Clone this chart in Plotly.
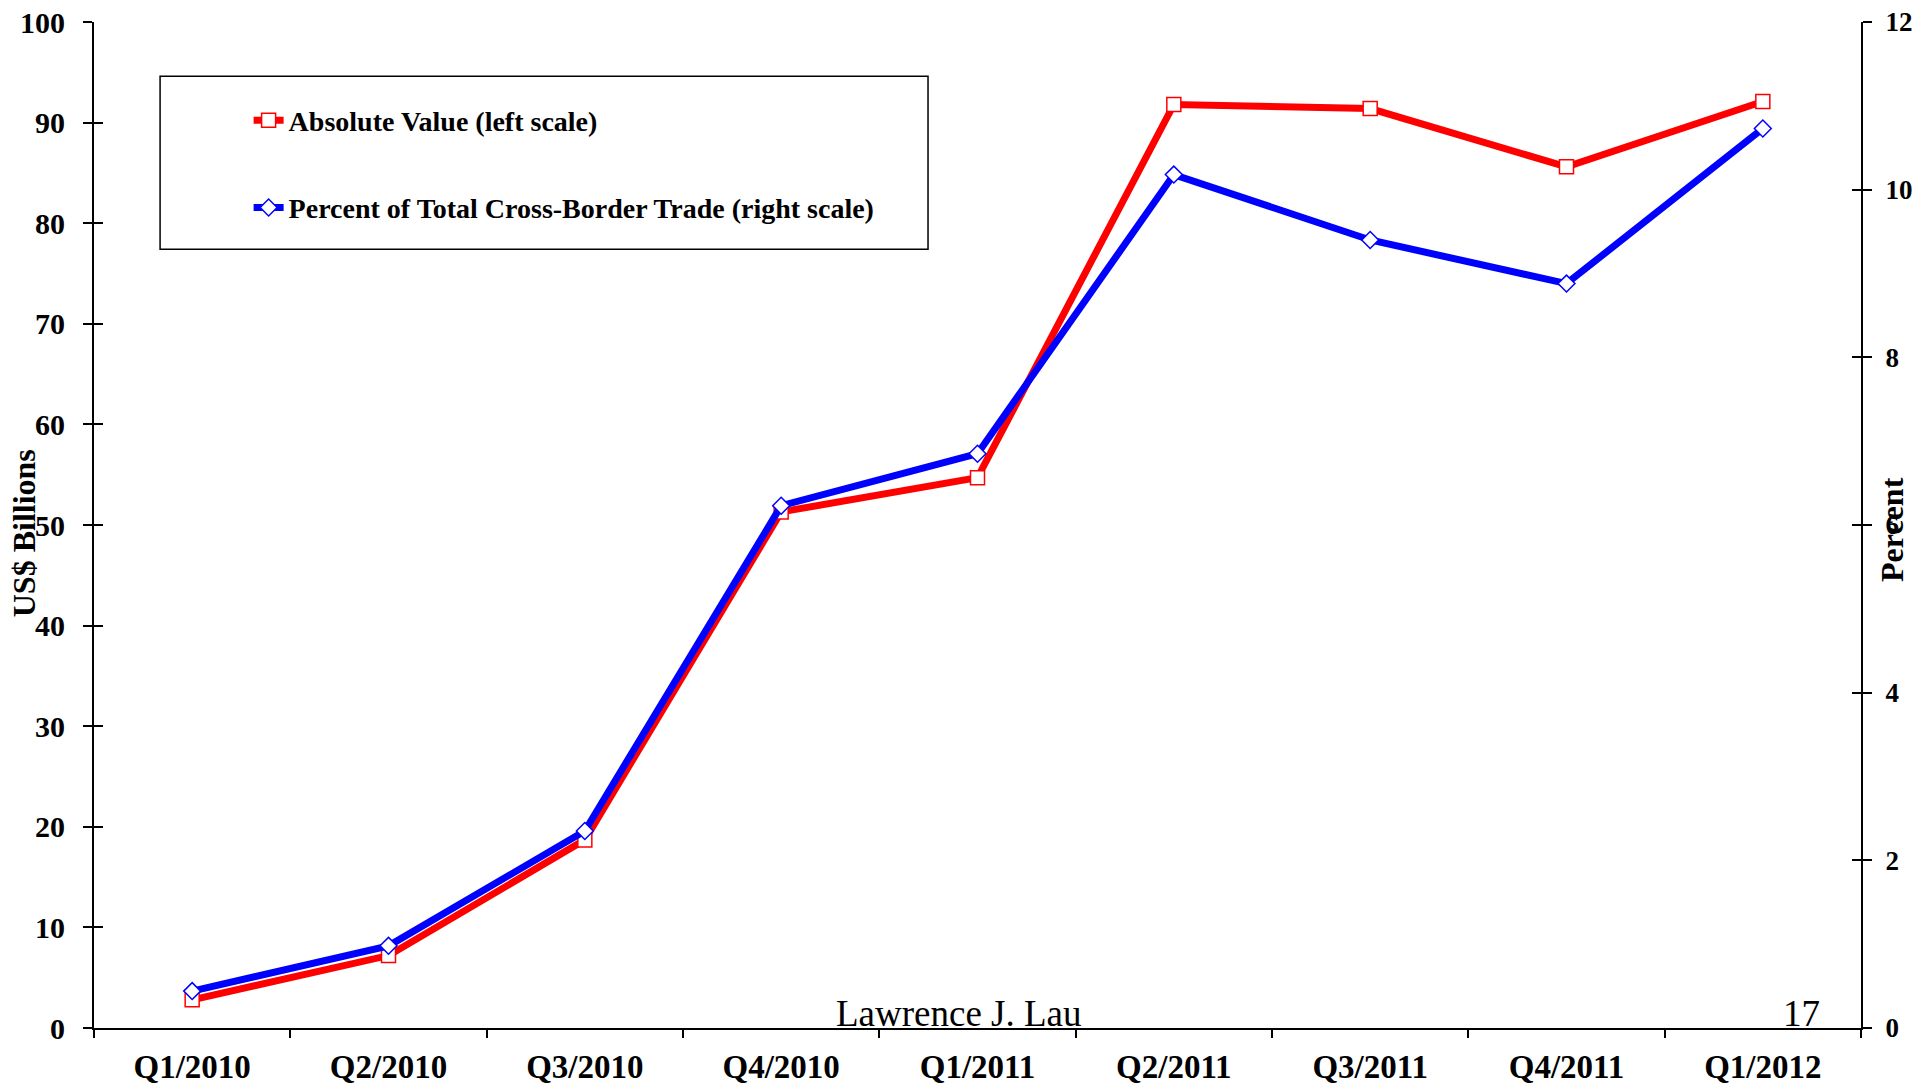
import plotly.graph_objects as go

quarters = ["Q1/2010", "Q2/2010", "Q3/2010", "Q4/2010", "Q1/2011",
            "Q2/2011", "Q3/2011", "Q4/2011", "Q1/2012"]
absolute_value = [2.8, 7.2, 18.7, 51.3, 54.7, 91.8, 91.4, 85.6, 92.1]
percent_total = [0.44, 0.98, 2.35, 6.23, 6.85, 10.18, 9.40, 8.88, 10.73]
left_ticks = list(range(0, 101, 10))
right_ticks = list(range(0, 13, 2))

FONT = "Liberation Serif"
pos = list(range(len(quarters)))
bounds = [p - 0.5 for p in pos] + [pos[-1] + 0.5]
xr = [-0.5, len(quarters) - 0.5]

fig = go.Figure()
fig.add_trace(go.Scatter(
    x=pos, y=absolute_value, name="Absolute Value (left scale)",
    mode="lines+markers", legendgroup="a",
    line=dict(color="#ff0000", width=7),
    marker=dict(symbol="square", size=14, color="white",
                line=dict(color="#ff0000", width=1.5)),
    xaxis="x", yaxis="y"))
fig.add_trace(go.Scatter(
    x=pos, y=percent_total, name="Percent of Total Cross-Border Trade (right scale)",
    mode="lines+markers", legendgroup="b",
    line=dict(color="#0000ff", width=7),
    marker=dict(symbol="diamond", size=13, color="white",
                line=dict(color="#0000ff", width=1.5)),
    xaxis="x", yaxis="y2"))

# invisible helper traces so the overlay axes (crossing ticks) get drawn
for xa, ya in [("x2", "y"), ("x", "y3"), ("x", "y4")]:
    fig.add_trace(go.Scatter(x=[None], y=[None], xaxis=xa, yaxis=ya,
                             showlegend=False, hoverinfo="skip", mode="lines"))

xfont = dict(family=FONT, size=33, color="black", weight="bold")
yfont = dict(family=FONT, size=30, color="black", weight="bold")
rfont = dict(family=FONT, size=27, color="black", weight="bold")
common = dict(showgrid=False, zeroline=False, automargin=False,
              tickcolor="black", tickwidth=2, ticklen=9)

fig.update_layout(
    width=1920, height=1084,
    paper_bgcolor="white", plot_bgcolor="white",
    margin=dict(l=86, r=67, t=14, b=64),
    font=dict(family=FONT, color="black"),
    xaxis=dict(range=xr, tickmode="array", tickvals=pos, ticktext=quarters,
               ticks="", tickfont=xfont, ticklabelstandoff=8,
               ticklabeloverflow="allow",
               showline=True, linewidth=2, linecolor="black",
               anchor="y", **common),
    xaxis2=dict(range=xr, overlaying="x", anchor="y", side="bottom",
                tickmode="array", tickvals=bounds, ticks="outside",
                showticklabels=False, showline=False, **common),
    xaxis3=dict(range=xr, overlaying="x", anchor="y", side="bottom",
                tickmode="array", tickvals=bounds, ticks="inside",
                showticklabels=False, showline=False, **common),
    yaxis=dict(range=[0, 100], tickmode="array", tickvals=left_ticks,
               ticks="outside", showline=True, linewidth=2, linecolor="black",
               tickfont=yfont, ticklabelstandoff=12, ticklabeloverflow="allow",
               anchor="x", **common),
    yaxis3=dict(range=[0, 100], overlaying="y", side="left", anchor="x",
                tickmode="array", tickvals=left_ticks, ticks="inside",
                showticklabels=False, showline=False, **common),
    yaxis2=dict(range=[0, 12], overlaying="y", side="right", anchor="x",
                tickmode="array", tickvals=right_ticks, ticks="outside",
                showline=True, linewidth=2, linecolor="black",
                tickfont=rfont, ticklabelstandoff=8, ticklabeloverflow="allow",
                **common),
    yaxis4=dict(range=[0, 12], overlaying="y", side="right", anchor="x",
                tickmode="array", tickvals=right_ticks, ticks="inside",
                showticklabels=False, showline=False, **common),
    legend=dict(x=0.0875, y=0.927, xanchor="left", yanchor="top",
                bgcolor="rgba(0,0,0,0)", borderwidth=0,
                font=dict(family=FONT, size=28, color="black", weight="bold"),
                traceorder="grouped", tracegroupgap=48),
    shapes=[dict(type="rect", xref="paper", yref="paper",
                 x0=0.0374, x1=0.472, y0=0.774, y1=0.946,
                 line=dict(color="black", width=1.5), fillcolor="rgba(0,0,0,0)")],
    annotations=[
        dict(text="US$ Billions", xref="paper", yref="paper", x=-0.0395, y=0.492,
             textangle=-90, showarrow=False, xanchor="center", yanchor="middle",
             font=dict(family=FONT, size=32, color="black", weight="bold")),
        dict(text="Percent", xref="paper", yref="paper", x=1.0175, y=0.496,
             textangle=-90, showarrow=False, xanchor="center", yanchor="middle",
             font=dict(family=FONT, size=32, color="black", weight="bold")),
        dict(text="Lawrence J. Lau", xref="paper", yref="paper", x=0.4895, y=0.0149,
             showarrow=False, xanchor="center", yanchor="middle",
             font=dict(family=FONT, size=37, color="black")),
        dict(text="17", xref="paper", yref="paper", x=0.9666, y=0.0149,
             showarrow=False, xanchor="center", yanchor="middle",
             font=dict(family=FONT, size=37, color="black")),
    ],
)

fig.write_html("out.html")
